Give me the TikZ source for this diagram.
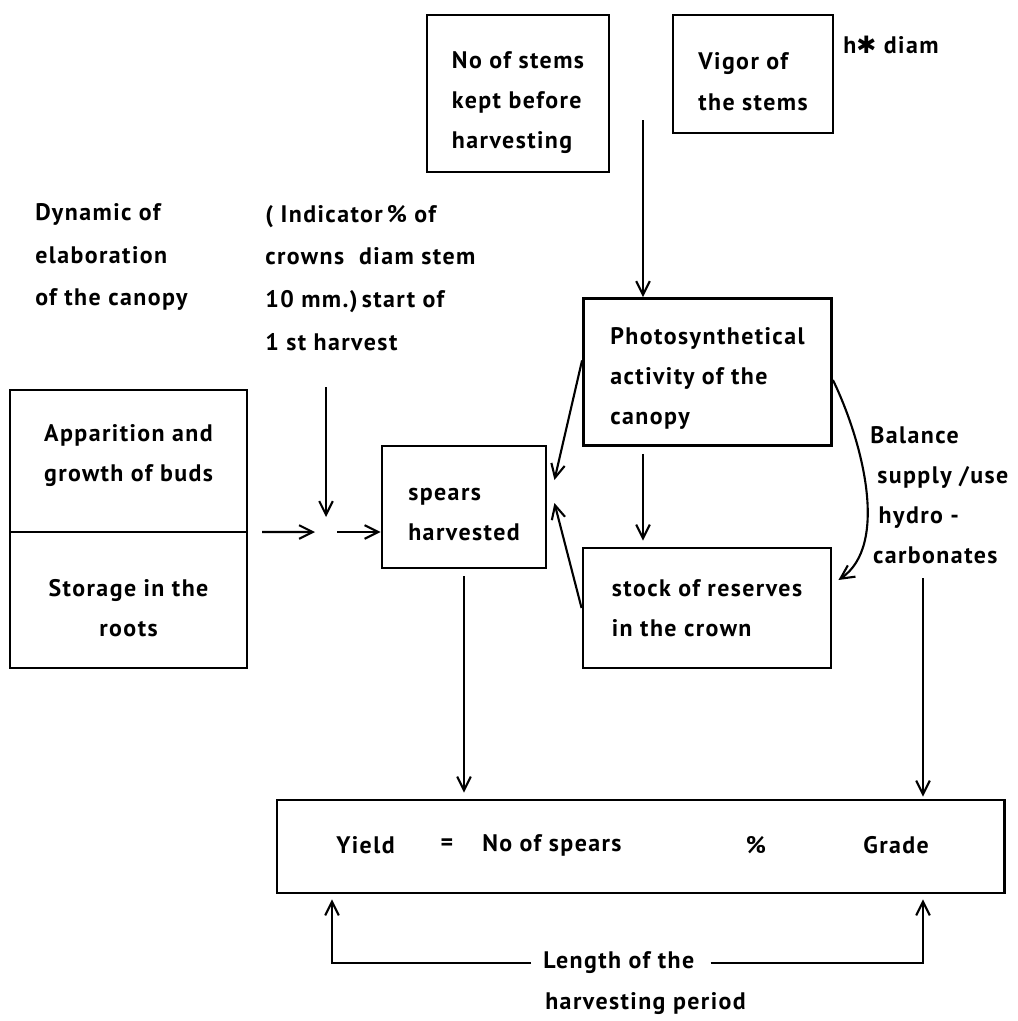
\documentclass[tikz,border=0pt]{standalone}
\usepackage{fontspec}
\setmainfont{PT Sans}[LetterSpace=6]
\newfontfamily\symfont{DejaVu Sans}
\usetikzlibrary{arrows.meta,positioning}
% strut that pushes a box text down (first line) or up (last line)
\newcommand{\dnstrut}[1]{\rule{0pt}{#1}}
\newcommand{\upstrut}[1]{\rule[-#1]{0pt}{#1}}

\begin{document}
\begin{tikzpicture}[x=0.025cm,y=-0.025cm,
    factor/.style={draw,line width=2pt,align=left,inner sep=0pt,
      font=\fontsize{17}{28.5}\selectfont\bfseries},
    process/.style={draw,line width=2pt,align=left,inner sep=0pt,
      minimum width=6.2cm,font=\fontsize{17}{28.5}\selectfont\bfseries},
    organ/.style={draw,line width=2pt,align=center,inner sep=0pt,outer sep=0pt,
      minimum width=5.925cm,font=\fontsize{17}{28.5}\selectfont\bfseries},
    result/.style={draw,line width=2pt,inner sep=0pt,
      minimum width=18.175cm,minimum height=2.325cm},
    note/.style={align=left,inner sep=0pt,
      font=\fontsize{17}{28.5}\selectfont\bfseries},
    widenote/.style={note,font=\fontsize{17}{30.5}\selectfont\bfseries},
    arrow/.style={-{Straight Barb[length=3.4mm,width=3.4mm]},line width=1.5pt}
  ]
    \useasboundingbox (0,0) rectangle (1018,1021);

    % inputs at the top
    \node[factor,minimum width=4.55cm,minimum height=3.925cm] (stems) at (518,93.5)
      {\dnstrut{25pt}No of stems\\kept before\\harvesting};
    \node[factor,minimum width=4cm,minimum height=2.95cm] (vigor) at (753,74)
      {\dnstrut{23pt}Vigor of\\the stems};
    \node[note,anchor=west] (hdiam) at (843,45) {h{\symfont ✱} diam};

    \node[widenote,anchor=west] (dyn) at (35,257)
      {Dynamic of\\elaboration\\of the canopy};
    \node[widenote,anchor=west] (indic) at (265,278)
      {( Indicator\,\% of\\crowns\ \ diam stem\\10 mm.)\,start of\\1 st harvest};

    % canopy and reserves
    \node[process,minimum height=3.675cm] (photo) at (707.5,372)
      {\dnstrut{21pt}Photosynthetical\\activity of the\\canopy};
    \node[process,minimum height=3cm] (stock) at (707,608)
      {stock of reserves\\in the crown};
    \node[note,anchor=west] (bal) at (870,495)
      {Balance\\\hspace{5pt}supply /use\\\hspace{6pt}hydro -\\\hspace{2pt}carbonates};

    \node[factor,minimum width=4.1cm,minimum height=3.05cm] (spears) at (464,507)
      {\dnstrut{20pt}spears\\harvested};

    % buds and roots
    \node[organ,minimum height=3.55cm] (buds) at (128.5,461)
      {Apparition and\\growth of buds\upstrut{12pt}};
    \node[organ,minimum height=3.4cm,anchor=north] (roots) at (buds.south)
      {\dnstrut{24pt}Storage in the\\roots};

    % yield
    \node[result] (yield) at (640.5,846.5) {};
    \node[note,anchor=west] (yld) at (336,845) {Yield};
    \node[note] (eq) at (447,845) {=};
    \node[note,anchor=west] (nsp) at (482,845) {No of spears};
    \node[note] (pct) at (756,845) {\%};
    \node[note,anchor=west] (grade) at (863,845) {Grade};

    \node[note,anchor=west] (len) at (543,963) {Length of the};
    \node[note,anchor=west] (per) at (545,1004) {harvesting period};

    \coordinate (stemsjoin) at (643,120);
    \coordinate (indjoin) at (326,387);
    \coordinate (jct) at (326,532);
    \coordinate (baljoin) at (923,578);
    \coordinate (lenL) at (332,963);

    \draw[arrow] (stemsjoin) -- (stemsjoin |- photo.north);
    \draw[arrow,shorten <=0.175cm,shorten >=0.15cm] (stemsjoin |- photo.south) -- (stemsjoin |- stock.north);
    \draw[arrow] ([yshift=0.29cm]photo.west) -- ([xshift=0.175cm,yshift=0.675cm]spears.east);
    \draw[arrow] (stock.west) -- ([xshift=0.175cm,yshift=0.1cm]spears.east);
    \draw[arrow] ([yshift=-0.2cm]photo.east) .. controls (862,440) and (890,545) .. ([xshift=0.15cm,yshift=0.7cm]stock.east);

    \draw[arrow,shorten <=0.375cm,shorten >=0.275cm] (buds.south east) -- (jct);
    \draw[arrow,shorten <=0.275cm] (jct) -- (jct -| spears.west);
    \draw[arrow,shorten >=0.375cm] (indjoin) -- (jct);

    \draw[arrow,shorten <=0.175cm,shorten >=0.15cm] (spears.south) -- (spears.south |- yield.north);
    \draw[arrow,shorten >=0.05cm] (baljoin) -- (baljoin |- yield.north);

    \draw[arrow,shorten <=0.3cm,shorten >=0.125cm] (len.west) -| (lenL |- yield.south);
    \draw[arrow,shorten <=0.4cm,shorten >=0.125cm] (len.east) -| (baljoin |- yield.south);
  \end{tikzpicture}
\end{document}
